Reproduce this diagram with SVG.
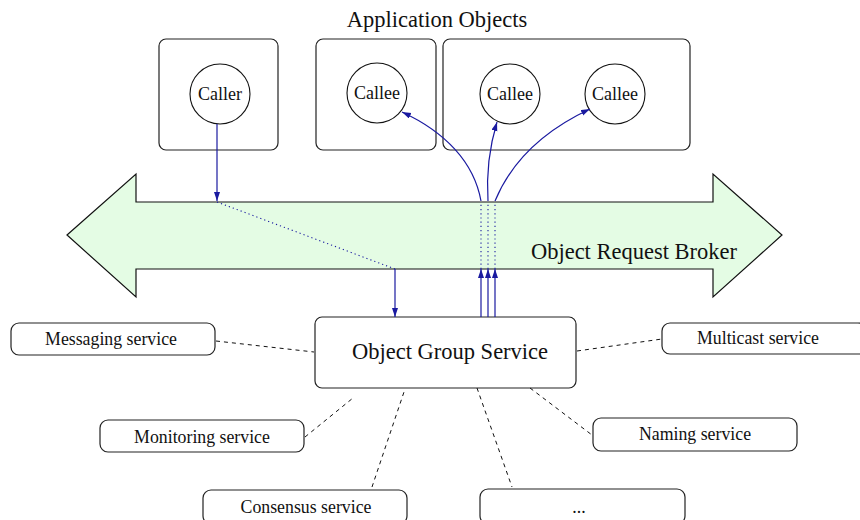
<svg xmlns="http://www.w3.org/2000/svg" width="860" height="520" viewBox="0 0 860 520" font-family="'Liberation Serif', 'DejaVu Serif', serif">
<style>
text{fill:#111;}
.box{fill:#fff;stroke:#222;stroke-width:1.2;}
.circ{fill:#fff;stroke:#111;stroke-width:1.1;}
.t18{font-size:18px;text-anchor:middle;}
.svc{font-size:17.8px;text-anchor:middle;}
.big{font-size:22.5px;text-anchor:middle;}
.blue{fill:none;stroke:#1a1aa0;stroke-width:1.2;}
.dot{fill:none;stroke:#1a1aa0;stroke-width:1.1;stroke-dasharray:1.2,3;}
.dash{fill:none;stroke:#111;stroke-width:1;stroke-dasharray:4,4;}
</style>
<defs>
<marker id="ah" markerUnits="userSpaceOnUse" markerWidth="10" markerHeight="8" refX="9" refY="3" orient="auto">
<path d="M0,0 L9,3 L0,6 z" fill="#1a1aa0"/>
</marker>
</defs>

<text x="437" y="27" class="big">Application Objects</text>

<g id="orb">
<path d="M67,235 L136,174 L136,202 L713,202 L713,174 L782,235 L713,297 L713,269 L136,269 L136,297 Z" fill="#e4fce4" stroke="#111" stroke-width="1.2"/>
<text x="634" y="259" class="big">Object Request Broker</text>
</g>

<g id="caller-box">
<rect x="159" y="39" width="119" height="111" rx="7" class="box"/>
<g id="caller"><circle cx="220" cy="94" r="30" class="circ"/><text x="220" y="100" class="t18">Caller</text></g>
</g>
<g id="callee-box1">
<rect x="316" y="39" width="120" height="111" rx="7" class="box"/>
<g id="callee1"><circle cx="377" cy="93" r="30" class="circ"/><text x="377" y="99" class="t18">Callee</text></g>
</g>
<g id="callee-box2">
<rect x="443" y="39" width="247" height="111" rx="7" class="box"/>
<g id="callee2"><circle cx="510" cy="94" r="30" class="circ"/><text x="510" y="100" class="t18">Callee</text></g>
<g id="callee3"><circle cx="615" cy="94" r="30" class="circ"/><text x="615" y="100" class="t18">Callee</text></g>
</g>

<g id="ogs">
<rect x="315" y="317" width="261" height="71" rx="7" class="box"/>
<text x="450" y="359" class="big">Object Group Service</text>
</g>

<g id="messaging"><rect x="11" y="323" width="204" height="32" rx="8" class="box"/><text x="111" y="345" class="svc">Messaging service</text></g>
<g id="monitoring"><rect x="100" y="420" width="204" height="32" rx="8" class="box"/><text x="202" y="443" class="svc">Monitoring service</text></g>
<g id="consensus"><rect x="203" y="490" width="204" height="34" rx="8" class="box"/><text x="306" y="513" class="svc">Consensus service</text></g>
<g id="multicast"><rect x="662" y="323" width="204" height="31" rx="8" class="box"/><text x="758" y="344" class="svc">Multicast service</text></g>
<g id="naming"><rect x="593" y="418" width="204" height="33" rx="8" class="box"/><text x="695" y="440" class="svc">Naming service</text></g>
<g id="more"><rect x="480" y="489" width="205" height="35" rx="8" class="box"/><text x="579" y="513" class="svc">...</text></g>

<g id="connectors">
<line x1="217" y1="124" x2="217" y2="201" class="blue" marker-end="url(#ah)"/>
<line x1="217" y1="202" x2="395" y2="269" class="dot"/>
<line x1="395" y1="269" x2="395" y2="317" class="blue" marker-end="url(#ah)"/>
<line x1="481" y1="317" x2="481" y2="269" class="blue" marker-end="url(#ah)"/>
<line x1="488" y1="317" x2="488" y2="269" class="blue" marker-end="url(#ah)"/>
<line x1="495" y1="317" x2="495" y2="269" class="blue" marker-end="url(#ah)"/>
<line x1="481" y1="269" x2="481" y2="202" class="dot"/>
<line x1="488" y1="269" x2="488" y2="202" class="dot"/>
<line x1="495" y1="269" x2="495" y2="202" class="dot"/>
<path d="M481,201 C474,162 445,132 402,112" class="blue" marker-end="url(#ah)"/>
<path d="M488,201 C486,170 490,145 497,122" class="blue" marker-end="url(#ah)"/>
<path d="M495,201 C512,160 545,130 590,109" class="blue" marker-end="url(#ah)"/>
<line x1="216" y1="341" x2="314" y2="352" class="dash"/>
<line x1="305" y1="437" x2="353" y2="398" class="dash"/>
<line x1="372" y1="487" x2="405" y2="389" class="dash"/>
<line x1="577" y1="351" x2="662" y2="339" class="dash"/>
<line x1="530" y1="388" x2="592" y2="435" class="dash"/>
<line x1="477" y1="388" x2="512" y2="487" class="dash"/>
</g>
</svg>
